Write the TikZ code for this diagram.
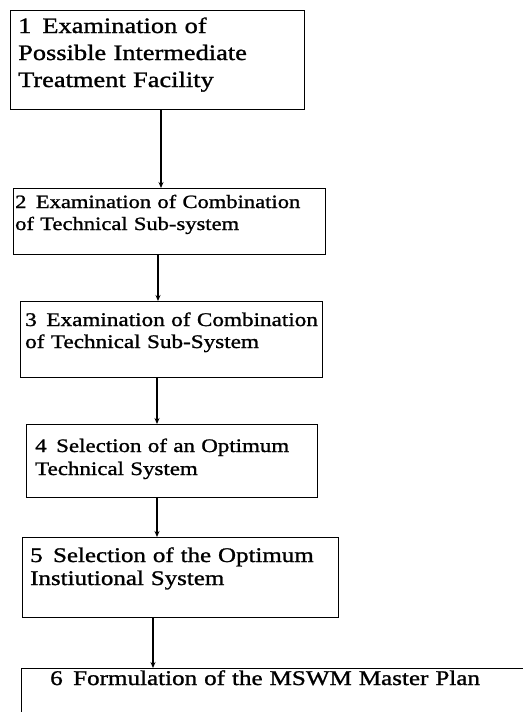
\documentclass[tikz,border=0pt]{standalone}
\usepackage{fontspec}
\setmainfont{Liberation Serif}[FakeStretch=1.2,FakeBold=1.2]
\usetikzlibrary{arrows.meta}

\begin{document}
\begin{tikzpicture}[x=1pt,y=-1pt,
  stage/.style={draw,line width=0.8pt,anchor=north west,inner sep=0pt},
  steptext/.style={anchor=base west,inner sep=0pt,text width=480pt,align=left},
  flow/.style={line width=2pt,-{Stealth[length=6pt,width=5pt]}}]
  \useasboundingbox (0,0) rectangle (522,712);
  % stage boxes
  \node[stage,minimum width=294pt,minimum height=99pt] (b1) at (10,10) {};
  \node[stage,minimum width=312pt,minimum height=66pt] (b2) at (13,188) {};
  \node[stage,minimum width=302pt,minimum height=76pt] (b3) at (20,301) {};
  \node[stage,minimum width=291pt,minimum height=73pt] (b4) at (26,424) {};
  \node[stage,minimum width=316pt,minimum height=80pt] (b5) at (22,537) {};
  \node[stage,minimum width=560pt,minimum height=100pt] (b6) at (21,668) {};
  % stage texts
  \node[steptext,font=\fontsize{22}{27}\selectfont] (t1) at (18,33)
    {1\,~Examination of\\Possible Intermediate\\Treatment Facility};
  \node[steptext,font=\fontsize{18.8}{22}\selectfont] (t2) at (15,208)
    {2\,~Examination of Combination\\of Technical Sub-system};
  \node[steptext,font=\fontsize{19.3}{22}\selectfont] (t3) at (25,326)
    {3\,~Examination of Combination\\of Technical Sub-System};
  \node[steptext,font=\fontsize{19.1}{23}\selectfont] (t4) at (35,452)
    {4\,~Selection of an Optimum\\Technical System};
  \node[steptext,font=\fontsize{20.8}{23}\selectfont] (t5) at (30,562)
    {5\,~Selection of the Optimum\\Instiutional System};
  \node[steptext,font=\fontsize{20.9}{25}\selectfont] (t6) at (50,685)
    {6\,~Formulation of the MSWM Master Plan};
  % flow arrows
  \draw[flow] (b1.south -| 161,0) -- (b2.north -| 161,0);
  \draw[flow] (b2.south -| 158,0) -- (b3.north -| 158,0);
  \draw[flow] (b3.south -| 157,0) -- (b4.north -| 157,0);
  \draw[flow] (b4.south -| 157,0) -- (b5.north -| 157,0);
  \draw[flow] (b5.south -| 153,0) -- (b6.north -| 153,0);
\end{tikzpicture}
\end{document}
